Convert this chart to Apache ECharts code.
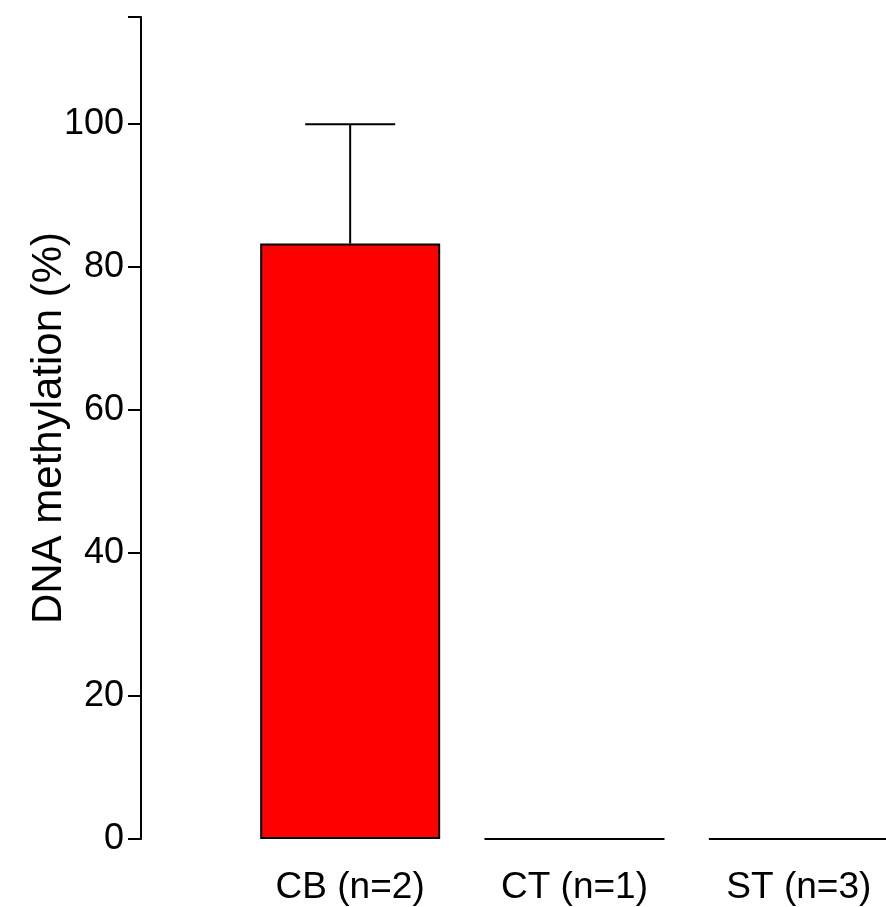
<!DOCTYPE html>
<html>
<head>
<meta charset="utf-8">
<script src="https://cdn.jsdelivr.net/npm/echarts@6/dist/echarts.min.js"></script>
<style>html,body{margin:0;padding:0;background:#fff}#c{width:886px;height:907px}</style>
</head>
<body>
<div id="c"></div>
<script>
var categories = ['CB (n=2)', 'CT (n=1)', 'ST (n=3)'];
var means = [83.3, 0, 0];
var upper = [100, 0, 0];
var yTicks = [0, 20, 40, 60, 80, 100];

var chart = echarts.init(document.getElementById('c'), null, {renderer: 'canvas'});
var font = 'Liberation Sans, Arial, sans-serif';
chart.setOption({
  animation: false,
  backgroundColor: '#fff',
  grid: {left: 238, width: 673, top: 17, bottom: 68, containLabel: false, outerBoundsMode: 'none'},
  xAxis: {
    type: 'category',
    data: categories,
    axisLine: {show: false},
    axisTick: {show: false},
    axisLabel: {color: '#000', fontSize: 37, fontFamily: font, margin: 30}
  },
  yAxis: {
    type: 'value',
    min: 0, max: 115, interval: 20,
    offset: 97,
    name: 'DNA methylation (%)',
    nameLocation: 'middle',
    nameGap: 71,
    nameMoveOverlap: false,
    nameTextStyle: {color: '#000', fontSize: 42, fontFamily: font},
    axisLine: {show: true, lineStyle: {color: '#000', width: 2}},
    axisTick: {show: true, length: 13, lineStyle: {color: '#000', width: 2}},
    axisLabel: {color: '#000', fontSize: 36, fontFamily: font, margin: 17,
      formatter: function (v) { return yTicks.indexOf(v) >= 0 ? String(v) : ''; }},
    splitLine: {show: false}
  },
  series: [
    {
      type: 'bar',
      data: means,
      barWidth: 180,
      itemStyle: {color: '#ff0000', borderColor: '#000', borderWidth: 2}
    },
    {
      type: 'custom',
      data: categories.map(function (c, i) { return [i, means[i], upper[i]]; }),
      renderItem: function (params, api) {
        var lo = api.coord([api.value(0), api.value(1)]);
        var hi = api.coord([api.value(0), api.value(2)]);
        if (api.value(2) <= api.value(1)) return null;
        var half = 45;
        return {
          type: 'group',
          children: [
            {type: 'line', shape: {x1: lo[0], y1: lo[1], x2: hi[0], y2: hi[1]}, style: {stroke: '#000', lineWidth: 2}},
            {type: 'line', shape: {x1: hi[0] - half, y1: hi[1], x2: hi[0] + half, y2: hi[1]}, style: {stroke: '#000', lineWidth: 2}}
          ]
        };
      },
      z: 3
    }
  ]
});
</script>
</body>
</html>
